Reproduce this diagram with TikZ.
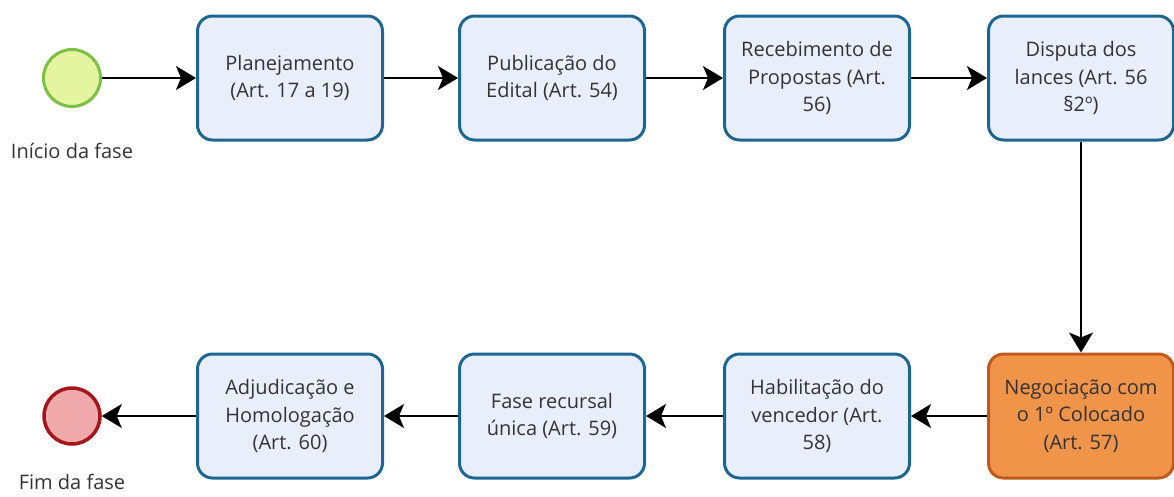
\documentclass[tikz,border=0pt]{standalone}
\usepackage{fontspec}
\setmainfont{Open Sans}
\usetikzlibrary{arrows.meta}
\definecolor{boxfill}{HTML}{E9EEFB}
\definecolor{boxline}{HTML}{1C6691}
\definecolor{orfill}{HTML}{F0944A}
\definecolor{orline}{HTML}{C05A1C}
\definecolor{stfill}{HTML}{E4F4A0}
\definecolor{stline}{HTML}{7CC143}
\definecolor{enfill}{HTML}{EFA9AA}
\definecolor{enline}{HTML}{A3161B}
\definecolor{txt}{HTML}{333333}
\tikzset{
  task/.style={draw=boxline, fill=boxfill, line width=3pt, rounded corners=15pt,
    minimum width=185pt, minimum height=124pt, align=center, text=txt,
    font=\fontsize{20}{27.5}\selectfont, inner sep=0pt},
  hot/.style={task, draw=orline, fill=orfill},
  evstart/.style={circle, draw=stline, fill=stfill, line width=3pt, minimum size=57pt, inner sep=0pt},
  evend/.style={circle, draw=enline, fill=enfill, line width=3.5pt, minimum size=56pt, inner sep=0pt},
  lbl/.style={text=txt, font=\fontsize{20}{22}\selectfont},
  flow/.style={draw=black, line width=1.8pt, -{Stealth[length=20pt,width=24pt,inset=5pt]}}
}
\begin{document}
\begin{tikzpicture}[x=1pt,y=-1pt]
\useasboundingbox (0,0) rectangle (1174,496);
\node[evstart] (s) at (72,78) {};
\node[lbl] (sl) at (72,151) {Início da fase};
\node[task] (b1) at (290,78) {Planejamento\\(Art. 17 a 19)};
\node[task] (b2) at (552,78) {Publicação do\\Edital (Art. 54)};
\node[task] (b3) at (817,78) {Recebimento de\\Propostas (Art.\\56)};
\node[task] (b4) at (1081,78) {Disputa dos\\lances (Art. 56\\§2º)};
\node[hot] (b5) at (1081,416) {Negociação com\\o 1º Colocado\\(Art. 57)};
\node[task] (b6) at (817,416) {Habilitação do\\vencedor (Art.\\58)};
\node[task] (b7) at (552,416) {Fase recursal\\única (Art. 59)};
\node[task] (b8) at (290,416) {Adjudicação e\\Homologação\\(Art. 60)};
\node[evend] (e) at (72,416) {};
\node[lbl] (el) at (72,482) {Fim da fase};
\draw[flow] (s) -- (b1);
\draw[flow] (b1) -- (b2);
\draw[flow] (b2) -- (b3);
\draw[flow] (b3) -- (b4);
\draw[flow] (b4) -- (b5);
\draw[flow] (b5) -- (b6);
\draw[flow] (b6) -- (b7);
\draw[flow] (b7) -- (b8);
\draw[flow] (b8) -- (e);
\end{tikzpicture}
\end{document}
